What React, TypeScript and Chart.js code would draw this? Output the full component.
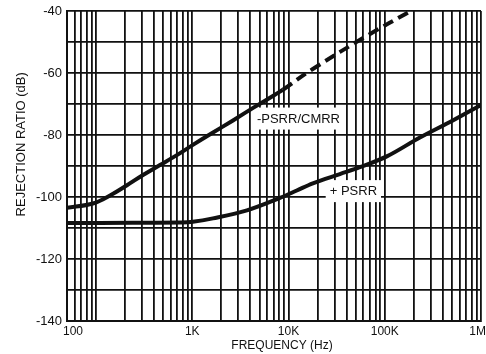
import React, { useEffect, useRef } from 'react';
import { Chart, registerables } from 'chart.js';

Chart.register(...registerables);

// -PSRR/CMRR (solid part)
const minusFreq = [50, 93, 140, 210, 308, 462, 693, 1016, 1565, 2650, 4375, 6885, 8750];
const minusLevel = [-103.5, -102.1, -99.5, -96.2, -92.9, -89.7, -86.5, -83.2, -79.6, -75.3, -71.1, -67.4, -65.4];
// -PSRR/CMRR (dashed continuation)
const dashFreq = [8750, 17900, 65200, 186600];
const dashLevel = [-65.4, -58.7, -48, -40];
// +PSRR
const plusFreq = [50, 242, 745, 1016, 1640, 3700, 8150, 12200, 17900, 34200, 55200, 105000, 232000, 510000, 1000000];
const plusLevel = [-108.4, -108.3, -108.2, -108.0, -106.9, -104.3, -100.3, -97.9, -95.6, -92.6, -90.4, -86.9, -80.8, -75.3, -70.3];

// axis labels
const xTickValues = [50, 1000, 10000, 100000, 1000000];
const xTickLabels = ['100', '1K', '10K', '100K', '1M'];
const yMin = -140;
const yMax = -40;
const xMin = 50;
const xMax = 1000000;

// curve labels
const curveLabels = ['-PSRR/CMRR', '+ PSRR'];
const curveLabelFreq = [12700, 47200];
const curveLabelLevel = [-74.7, -98.1];

const xTitle = 'FREQUENCY (Hz)';
const yTitle = 'REJECTION RATIO (dB)';

const INK = '#111111';
const FONT = '"Liberation Sans", Arial, Helvetica, sans-serif';

function buildXGrid(): number[] {
  const vals: number[] = [];
  for (let d = 10; d < xMax; d *= 10) {
    for (let m = 1; m <= 9; m++) {
      const v = m * d;
      if (v >= xMin && v <= xMax) vals.push(v);
    }
  }
  vals.push(xMax);
  return vals;
}

const toPts = (xs: number[], ys: number[]) => xs.map((x, i) => ({ x, y: ys[i] }));

const annotPlugin = {
  id: 'annot',
  beforeDatasetsDraw(chart: any) {
    const { ctx, scales } = chart;
    const xs = scales.x;
    const ys = scales.y;
    ctx.save();
    ctx.font = `13px ${FONT}`;
    ctx.textBaseline = 'middle';
    ctx.textAlign = 'center';
    curveLabels.forEach((t, i) => {
      const px = xs.getPixelForValue(curveLabelFreq[i]);
      const py = ys.getPixelForValue(curveLabelLevel[i]);
      const w = ctx.measureText(t).width;
      ctx.fillStyle = '#ffffff';
      ctx.fillRect(px - w / 2 - 4, py - 11, w + 8, 22);
      ctx.fillStyle = INK;
      ctx.fillText(t, px, py + 0.5);
    });
    ctx.restore();
  },
  afterDraw(chart: any) {
    const { ctx, scales, chartArea, width } = chart;
    const xs = scales.x;
    ctx.save();
    ctx.fillStyle = INK;
    ctx.textBaseline = 'middle';
    ctx.textAlign = 'left';
    ctx.font = `12px ${FONT}`;
    xTickValues.forEach((v, i) => {
      const t = xTickLabels[i];
      const w = ctx.measureText(t).width;
      let left = xs.getPixelForValue(v) - w / 2;
      left = Math.max(left, chartArea.left - 4);
      left = Math.min(left, width - w);
      ctx.fillText(t, left, chartArea.bottom + 11);
    });
    ctx.textAlign = 'center';
    ctx.font = `12px ${FONT}`;
    ctx.fillText(xTitle, (chartArea.left + chartArea.right) / 2 + 8, chartArea.bottom + 25);
    ctx.translate(21, chartArea.top + chartArea.height * 0.43);
    ctx.rotate(-Math.PI / 2);
    ctx.font = `13px ${FONT}`;
    ctx.fillText(yTitle, 0, 0);
    ctx.restore();
  },
};

export default function App() {
  const ref = useRef<HTMLCanvasElement | null>(null);

  useEffect(() => {
    document.body.style.margin = '0';
    const canvas = ref.current;
    if (!canvas) return;
    const xGrid = buildXGrid();
    const lineStyle = {
      borderColor: INK,
      borderWidth: 4,
      pointRadius: 0,
      fill: false,
      tension: 0.35,
      borderCapStyle: 'butt' as const,
    };
    const chart = new Chart(canvas, {
      type: 'line',
      data: {
        datasets: [
          { label: '-PSRR/CMRR', data: toPts(minusFreq, minusLevel), ...lineStyle },
          { label: '-PSRR/CMRR (ext)', data: toPts(dashFreq, dashLevel), ...lineStyle, borderDash: [11, 6] },
          { label: '+PSRR', data: toPts(plusFreq, plusLevel), ...lineStyle },
        ],
      },
      options: {
        responsive: false,
        animation: false,
        layout: { padding: { top: 11, right: 5, left: 0, bottom: 0 } },
        plugins: {
          legend: { display: false },
          tooltip: { enabled: false },
          title: { display: false },
        },
        scales: {
          x: {
            type: 'logarithmic',
            min: xMin,
            max: xMax,
            afterBuildTicks: (s: any) => {
              s.ticks = xGrid.map((v) => ({ value: v }));
            },
            ticks: { display: false, autoSkip: false },
            grid: { color: INK, lineWidth: 1.8, drawTicks: false },
            border: { color: INK, width: 2 },
            afterFit: (s: any) => {
              s.height = 33;
              s.paddingLeft = 0;
              s.paddingRight = 0;
            },
          },
          y: {
            type: 'linear',
            min: yMin,
            max: yMax,
            ticks: {
              stepSize: 10,
              padding: 5,
              color: INK,
              font: { family: FONT, size: 13 },
              callback: (v: any) => (Number(v) % 20 === 0 ? String(v) : ''),
            },
            grid: { color: INK, lineWidth: 1.8, drawTicks: false },
            border: { color: INK, width: 2 },
            afterFit: (s: any) => {
              s.width = 67;
              s.paddingTop = 0;
              s.paddingBottom = 0;
            },
          },
        },
      },
      plugins: [annotPlugin],
    });
    return () => chart.destroy();
  }, []);

  return (
    <div style={{ width: 486, height: 354, background: '#fff' }}>
      <canvas ref={ref} width={486} height={354} />
    </div>
  );
}
